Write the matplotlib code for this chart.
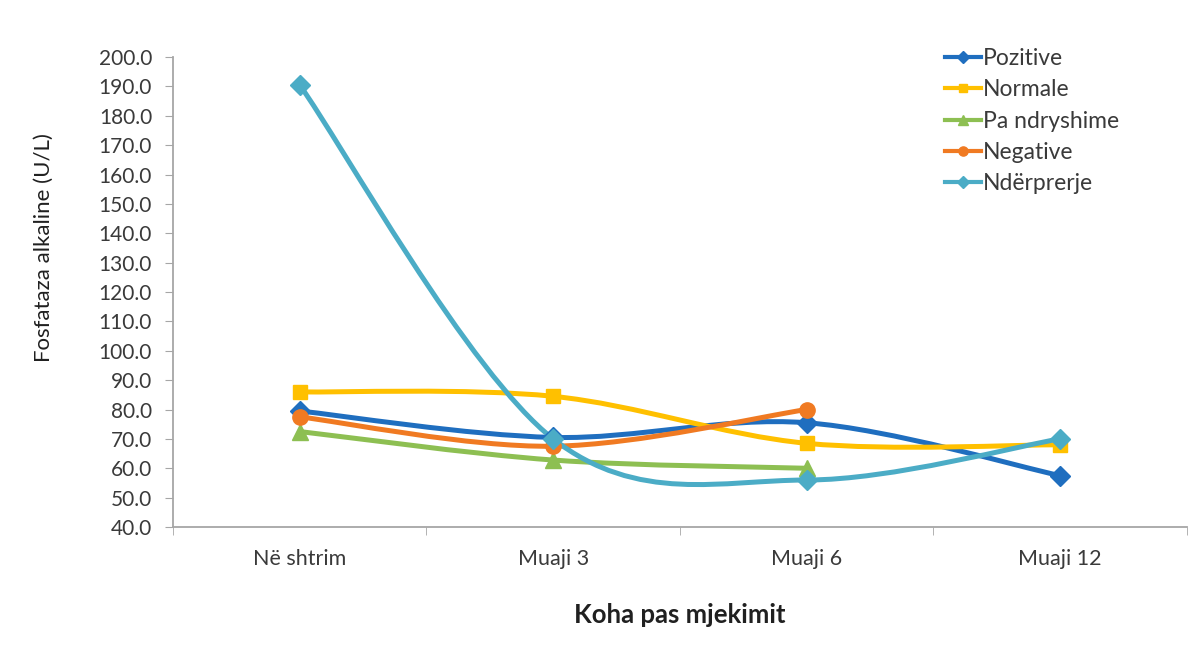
import matplotlib
matplotlib.use("Agg")
import matplotlib.pyplot as plt
from matplotlib.path import Path
from matplotlib.patches import PathPatch
from matplotlib.lines import Line2D
import numpy as np

plt.rcParams['font.family'] = ['Lato', 'DejaVu Sans']

categories = ["Në shtrim", "Muaji 3", "Muaji 6", "Muaji 12"]

pozitive = [79.5, 70.5, 75.5, 57.5]
normale = [86.0, 84.5, 68.5, 68.0]
pa_ndryshime = [72.5, 62.8, 60.0]
negative = [77.5, 67.5, 80.0]
nderprerje = [190.5, 70.0, 56.0, 70.0]

series = [
    ("Pozitive", pozitive, "#1F6EBF", "D", 10),
    ("Normale", normale, "#FFC000", "s", 10),
    ("Pa ndryshime", pa_ndryshime, "#8DBF52", "^", 11),
    ("Negative", negative, "#F07A22", "o", 11),
    ("Ndërprerje", nderprerje, "#4BACC6", "D", 10),
]

y_ticks = np.arange(40, 201, 10)


def smooth_path(xs, ys):
    # cubic bezier segments with catmull-rom style tangents
    pts = np.column_stack([xs, ys]).astype(float)
    n = len(pts)
    tang = np.zeros_like(pts)
    for i in range(n):
        a = pts[max(i - 1, 0)]
        b = pts[min(i + 1, n - 1)]
        tang[i] = (b - a) / 2.0
    verts = [pts[0]]
    codes = [Path.MOVETO]
    for i in range(n - 1):
        verts += [pts[i] + tang[i] / 3.0, pts[i + 1] - tang[i + 1] / 3.0, pts[i + 1]]
        codes += [Path.CURVE4] * 3
    return Path(verts, codes)


fig = plt.figure(figsize=(11.97, 6.6), dpi=100)
ax = fig.add_axes([0.1445, 0.2015, 0.847, 0.712])

handles = []
for name, vals, color, marker, ms in series:
    xs = np.arange(len(vals))
    patch = PathPatch(smooth_path(xs, vals), fill=False, edgecolor=color,
                      lw=3.6, capstyle='round', joinstyle='round')
    ax.add_patch(patch)
    ax.plot(xs, vals, linestyle='none', marker=marker, ms=ms,
            color=color, markeredgecolor=color)
    handles.append(Line2D([], [], color=color, lw=3, marker=marker, ms=ms * 0.6))

ax.set_xlim(-0.5, len(categories) - 0.5)
ax.set_ylim(40, 200)
ax.set_yticks(y_ticks)
ax.set_yticklabels([f"{v:.1f}" for v in y_ticks])
ax.set_xticks(range(len(categories)))
ax.set_xticklabels(categories)
ax.set_xticks(np.arange(-0.5, len(categories), 1.0), minor=True)

axis_color = "#A6A6A6"
text_color = "#3A3A3A"
for side in ("top", "right"):
    ax.spines[side].set_visible(False)
for side in ("left", "bottom"):
    ax.spines[side].set_color(axis_color)
    ax.spines[side].set_linewidth(1.3)

ax.tick_params(axis='y', direction='out', length=6, color=axis_color,
               labelsize=15, labelcolor=text_color, pad=9)
ax.tick_params(axis='x', which='major', length=0, labelsize=15.5,
               labelcolor=text_color, pad=16)
ax.tick_params(axis='x', which='minor', direction='out', length=6,
               color=axis_color)

ax.set_ylabel("Fosfataza alkaline (U/L)", fontsize=16, color="#202020")
ax.yaxis.set_label_coords(-0.117, 0.594)
ax.set_xlabel("Koha pas mjekimit", fontsize=18.5, fontweight='bold',
              color="#202020", labelpad=24)

ax.legend(handles, [s[0] for s in series], loc='upper left',
          bbox_to_anchor=(945 / 1197, (660 - 48) / 660),
          bbox_transform=fig.transFigure, borderaxespad=0, borderpad=0,
          frameon=False, fontsize=16.5, handlelength=1.55, handletextpad=0.1,
          labelspacing=0.45, labelcolor=text_color)

fig.savefig("out.png", dpi=100, facecolor="white")
